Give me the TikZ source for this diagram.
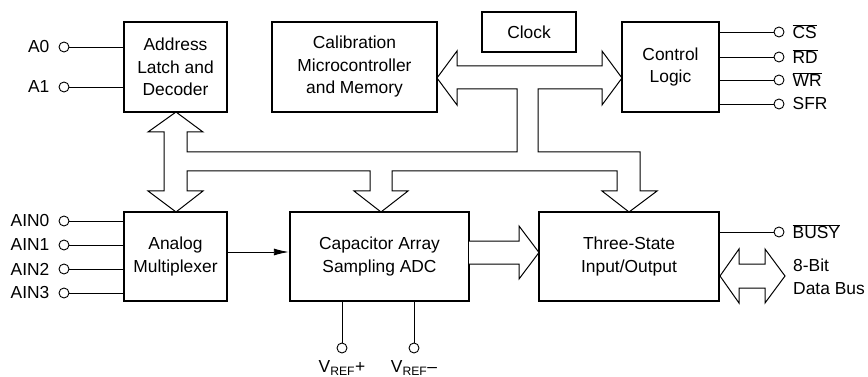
\documentclass[tikz,border=0pt]{standalone}
\usepackage{fontspec}
\setmainfont{Liberation Sans}
\usetikzlibrary{arrows.meta}
\begin{document}
\begin{tikzpicture}[x=1pt,y=-1pt,
  txt/.style={font=\fontsize{17.4}{22.5}\selectfont},
  blk/.style={draw, line width=2.4pt, inner sep=0pt, align=center, txt},
  term/.style={draw, circle, line width=0.9pt, minimum size=10pt, inner sep=0pt},
  wire/.style={line width=0.9pt},
  bus/.style={draw, line width=1pt, fill=white, line join=miter},
  lbl/.style={txt, inner sep=0pt}
]
\useasboundingbox (0,0) rectangle (868,377);

% hollow bus structure
\draw[bus] (176,112) -- (203,132) -- (187,132) -- (187,152) -- (517,152) -- (517,89)
  -- (457,89) -- (457,105) -- (437,78) -- (457,51) -- (457,66) -- (602,66) -- (602,51)
  -- (622,78) -- (602,105) -- (602,89) -- (538,89) -- (538,152) -- (640,152) -- (640,191)
  -- (657,191) -- (629,212) -- (602,191) -- (617,191) -- (617,171) -- (392,171)
  -- (392,191) -- (408,191) -- (381,212) -- (354,191) -- (370,191) -- (370,171)
  -- (187,171) -- (187,191) -- (203,191) -- (176,212) -- (148,191) -- (164,191)
  -- (164,132) -- (148,132) -- cycle;

% blocks
\node[blk, minimum width=103pt, minimum height=90pt] (addr) at (175.5,67) {Address\\Latch and\\Decoder};
\node[blk, minimum width=165pt, minimum height=90pt] (calib) at (354.5,67) {Calibration\\Microcontroller\\and Memory};
\node[blk, minimum width=94pt, minimum height=40pt] (clock) at (529,32) {Clock};
\node[blk, minimum width=97pt, minimum height=90pt] (ctrl) at (670.5,67) {Control\\Logic};
\node[blk, minimum width=103pt, minimum height=89pt] (mux) at (175.5,256.5) {Analog\\Multiplexer};
\node[blk, minimum width=179pt, minimum height=89pt] (adc) at (379.5,256.5) {Capacitor Array\\Sampling ADC};
\node[blk, minimum width=180pt, minimum height=89pt] (tsio) at (629,256.5) {Three-State\\Input/Output};

% ADC -> I/O hollow arrow
\draw[bus] (469,241) -- (519,241) -- (519,226) -- (539,252.5) -- (519,279) -- (519,264) -- (469,264);

% data bus double arrow
\draw[bus] (720,276) -- (739,249) -- (739,264) -- (765,264) -- (765,249) -- (785,276)
  -- (765,303) -- (765,288) -- (739,288) -- (739,303) -- cycle;
\node[lbl, anchor=west, align=left] (dbus) at (793,277) {8-Bit\\Data Bus};

% left terminals
\foreach \n/\y/\t/\b in {a0/47/A0/addr, a1/87/A1/addr, ain0/221/AIN0/mux, ain1/245/AIN1/mux, ain2/269/AIN2/mux, ain3/293/AIN3/mux}{
  \node[term] (p\n) at (64,\y) {};
  \node[lbl, anchor=east] (l\n) at ([xshift=-9pt]p\n.west) {\t};
  \draw[wire] (p\n.east) -- (\b.west |- p\n);
}

% right terminals
\foreach \n/\y/\t/\b in {cs/32/$\overline{\mbox{CS}}$/ctrl, rd/57/$\overline{\mbox{RD}}$/ctrl, wr/80/$\overline{\mbox{WR}}$/ctrl, sfr/104/SFR/ctrl, busy/232/$\overline{\mbox{BUSY}}$/tsio}{
  \node[term] (p\n) at (779,\y) {};
  \node[lbl, anchor=west] (l\n) at ([xshift=8pt]p\n.east) {\t};
  \draw[wire] (\b.east |- p\n) -- (p\n.west);
}

% mux -> adc
\draw[wire, -{Latex[length=15pt,width=7pt]}] (mux.east |- 0,252) -- (adc.west |- 0,252);

% reference terminals
\node[term] (vp) at (342,348) {};
\node[term] (vm) at (414,348) {};
\draw[wire] (adc.south -| vp) -- (vp.north);
\draw[wire] (adc.south -| vm) -- (vm.north);
\node[lbl, anchor=north] (lvp) at ([yshift=-7pt]vp.south) {V\textsubscript{REF}+};
\node[lbl, anchor=north] (lvm) at ([yshift=-7pt]vm.south) {V\textsubscript{REF}–};
\end{tikzpicture}
\end{document}
